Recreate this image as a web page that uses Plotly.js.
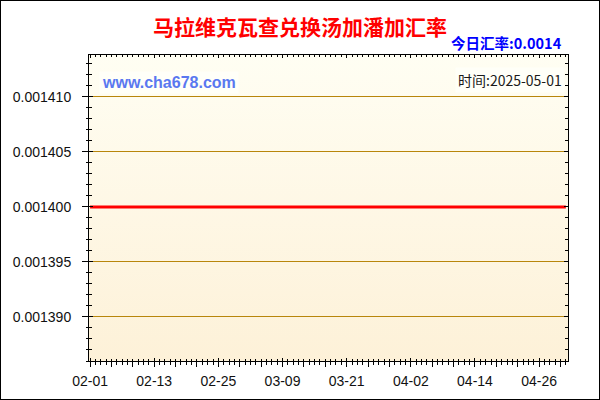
<!DOCTYPE html>
<html>
<head>
<meta charset="utf-8">
<script src="https://cdn.plot.ly/plotly-3.0.1.min.js"></script>
<style>
  body { margin: 0; background: #fff; }
  #wrap { position: relative; width: 600px; height: 400px; }
  #chart { width: 600px; height: 400px; }
  #frame { position: absolute; left: 0; top: 0; width: 600px; height: 400px;
           box-sizing: border-box; border: 1px solid #000; pointer-events: none; }
</style>
</head>
<body>
<div id="wrap">
  <div id="chart"></div>
  <div id="frame"></div>
</div>
<script>
// daily rate, Malawi kwacha -> Tongan pa'anga
var dates = [
  '2025-02-01','2025-02-02','2025-02-03','2025-02-04','2025-02-05','2025-02-06','2025-02-07',
  '2025-02-08','2025-02-09','2025-02-10','2025-02-11','2025-02-12','2025-02-13','2025-02-14',
  '2025-02-15','2025-02-16','2025-02-17','2025-02-18','2025-02-19','2025-02-20','2025-02-21',
  '2025-02-22','2025-02-23','2025-02-24','2025-02-25','2025-02-26','2025-02-27','2025-02-28',
  '2025-03-01','2025-03-02','2025-03-03','2025-03-04','2025-03-05','2025-03-06','2025-03-07',
  '2025-03-08','2025-03-09','2025-03-10','2025-03-11','2025-03-12','2025-03-13','2025-03-14',
  '2025-03-15','2025-03-16','2025-03-17','2025-03-18','2025-03-19','2025-03-20','2025-03-21',
  '2025-03-22','2025-03-23','2025-03-24','2025-03-25','2025-03-26','2025-03-27','2025-03-28',
  '2025-03-29','2025-03-30','2025-03-31','2025-04-01','2025-04-02','2025-04-03','2025-04-04',
  '2025-04-05','2025-04-06','2025-04-07','2025-04-08','2025-04-09','2025-04-10','2025-04-11',
  '2025-04-12','2025-04-13','2025-04-14','2025-04-15','2025-04-16','2025-04-17','2025-04-18',
  '2025-04-19','2025-04-20','2025-04-21','2025-04-22','2025-04-23','2025-04-24','2025-04-25',
  '2025-04-26','2025-04-27','2025-04-28','2025-04-29','2025-04-30','2025-05-01'
];
var rates = [
  0.0014,0.0014,0.0014,0.0014,0.0014,0.0014,0.0014,
  0.0014,0.0014,0.0014,0.0014,0.0014,0.0014,0.0014,
  0.0014,0.0014,0.0014,0.0014,0.0014,0.0014,0.0014,
  0.0014,0.0014,0.0014,0.0014,0.0014,0.0014,0.0014,
  0.0014,0.0014,0.0014,0.0014,0.0014,0.0014,0.0014,
  0.0014,0.0014,0.0014,0.0014,0.0014,0.0014,0.0014,
  0.0014,0.0014,0.0014,0.0014,0.0014,0.0014,0.0014,
  0.0014,0.0014,0.0014,0.0014,0.0014,0.0014,0.0014,
  0.0014,0.0014,0.0014,0.0014,0.0014,0.0014,0.0014,
  0.0014,0.0014,0.0014,0.0014,0.0014,0.0014,0.0014,
  0.0014,0.0014,0.0014,0.0014,0.0014,0.0014,0.0014,
  0.0014,0.0014,0.0014,0.0014,0.0014,0.0014,0.0014,
  0.0014,0.0014,0.0014,0.0014,0.0014,0.0014
];

// x ticks every 4 days, labelled every 12 days
var tickDates = [
  '2025-02-01','2025-02-05','2025-02-09','2025-02-13','2025-02-17','2025-02-21',
  '2025-02-25','2025-03-01','2025-03-05','2025-03-09','2025-03-13','2025-03-17',
  '2025-03-21','2025-03-25','2025-03-29','2025-04-02','2025-04-06','2025-04-10',
  '2025-04-14','2025-04-18','2025-04-22','2025-04-26','2025-04-30'
];
var tickLabels = [
  '02-01','','','02-13','','',
  '02-25','','','03-09','','',
  '03-21','','','04-02','','',
  '04-14','','','04-26',''
];

var titleText = '马拉维克瓦查兑换汤加潘加汇率';
var todayText = '今日汇率:0.0014';
var dateText = '时间:2025-05-01';
var siteText = 'www.cha678.com';

var xRange = ['2025-01-31 19:12', '2025-05-01 09:36'];
var yRange = [0.001386, 0.0014138];

var bgSvg = "<svg xmlns='http://www.w3.org/2000/svg' width='10' height='100' preserveAspectRatio='none'>" +
  "<defs><linearGradient id='g' x1='0' y1='0' x2='0' y2='1'>" +
  "<stop offset='0' stop-color='#FFFEF3'/><stop offset='1' stop-color='#FDF1D8'/>" +
  "</linearGradient></defs><rect width='10' height='100' fill='url(#g)'/></svg>";

var line = {
  x: dates, y: rates, type: 'scatter', mode: 'lines',
  line: {color: '#FF0000', width: 3},
  hoverinfo: 'x+y'
};
// same data on the overlay axes, only so their inside ticks get drawn
var ghost = {
  x: dates, y: rates, type: 'scatter', mode: 'lines',
  xaxis: 'x2', yaxis: 'y2', opacity: 0,
  line: {width: 0}, hoverinfo: 'skip', showlegend: false
};

var tickFont = {family: 'Liberation Sans, Arial, sans-serif', size: 14, color: '#111111'};

var layout = {
  width: 600,
  height: 400,
  margin: {l: 89, r: 32, t: 55, b: 39},
  paper_bgcolor: '#FFFFFF',
  plot_bgcolor: 'rgba(0,0,0,0)',
  showlegend: false,
  title: {
    text: titleText,
    font: {family: 'Noto Sans CJK SC, sans-serif', size: 21, color: '#FF0000', weight: 'bold'},
    x: 0.5, xanchor: 'center', xref: 'container',
    y: 0.93, yanchor: 'middle', yref: 'container'
  },
  xaxis: {
    type: 'date',
    range: xRange,
    tickmode: 'array',
    tickvals: tickDates,
    ticktext: tickLabels,
    ticks: 'outside', ticklen: 5, tickcolor: '#000', tickwidth: 1,
    minor: {dtick: 86400000, tick0: '2025-02-01', ticks: 'outside', ticklen: 3, tickcolor: '#000', showgrid: false},
    showgrid: false, zeroline: false,
    showline: true, linecolor: '#000', linewidth: 1, mirror: true,
    tickfont: tickFont,
    ticklabelstandoff: 2,
    fixedrange: true
  },
  xaxis2: {
    type: 'date',
    overlaying: 'x',
    range: xRange,
    tickmode: 'array',
    tickvals: tickDates,
    ticktext: tickLabels,
    ticks: 'inside', ticklen: 3, tickcolor: '#000',
    minor: {dtick: 86400000, tick0: '2025-02-01', ticks: 'inside', ticklen: 2, tickcolor: '#000', showgrid: false},
    mirror: 'allticks', showline: false,
    showgrid: false, zeroline: false, showticklabels: false,
    fixedrange: true
  },
  yaxis: {
    range: yRange,
    tick0: 0.00139, dtick: 0.000005,
    tickformat: '.6f',
    ticks: 'outside', ticklen: 6, tickcolor: '#000', tickwidth: 1,
    minor: {dtick: 0.000001, ticks: 'outside', ticklen: 2, tickcolor: '#000', showgrid: false},
    showgrid: true, gridcolor: '#B8860B', gridwidth: 1,
    zeroline: false,
    showline: true, linecolor: '#000', linewidth: 1, mirror: true,
    tickfont: tickFont,
    ticklabelstandoff: 8,
    fixedrange: true
  },
  yaxis2: {
    overlaying: 'y',
    range: yRange,
    tick0: 0.00139, dtick: 0.000005,
    ticks: 'inside', ticklen: 4, tickcolor: '#000',
    minor: {dtick: 0.000001, ticks: 'inside', ticklen: 3, tickcolor: '#000', showgrid: false},
    mirror: 'allticks', showline: false,
    showgrid: false, zeroline: false, showticklabels: false,
    fixedrange: true
  },
  images: [{
    source: 'data:image/svg+xml,' + encodeURIComponent(bgSvg),
    xref: 'paper', yref: 'paper',
    x: 0, y: 1, sizex: 1, sizey: 1,
    xanchor: 'left', yanchor: 'top',
    sizing: 'stretch', layer: 'below'
  }],
  annotations: [
    {
      text: todayText, showarrow: false,
      xref: 'paper', yref: 'paper', x: 0.9916, y: 1.0408,
      xanchor: 'right', yanchor: 'middle',
      font: {family: 'Noto Sans CJK SC, sans-serif', size: 14.5, color: '#0000FF', weight: 'bold'}
    },
    {
      text: siteText, showarrow: false,
      xref: 'paper', yref: 'paper', x: 0.021, y: 0.9085,
      xanchor: 'left', yanchor: 'middle',
      bgcolor: '#FFFFF8', borderpad: 2,
      font: {family: 'Liberation Sans, Arial, sans-serif', size: 16, color: '#5A78F0', weight: 'bold'}
    },
    {
      text: dateText, showarrow: false,
      xref: 'paper', yref: 'paper', x: 0.9937, y: 0.918,
      xanchor: 'right', yanchor: 'middle',
      bgcolor: '#FFFFF8', borderpad: 2,
      font: {family: 'Noto Sans CJK SC, Liberation Sans, sans-serif', size: 14, color: '#1a1a1a'}
    }
  ]
};

Plotly.newPlot('chart', [line, ghost], layout, {displayModeBar: false, staticPlot: true});
</script>
</body>
</html>
